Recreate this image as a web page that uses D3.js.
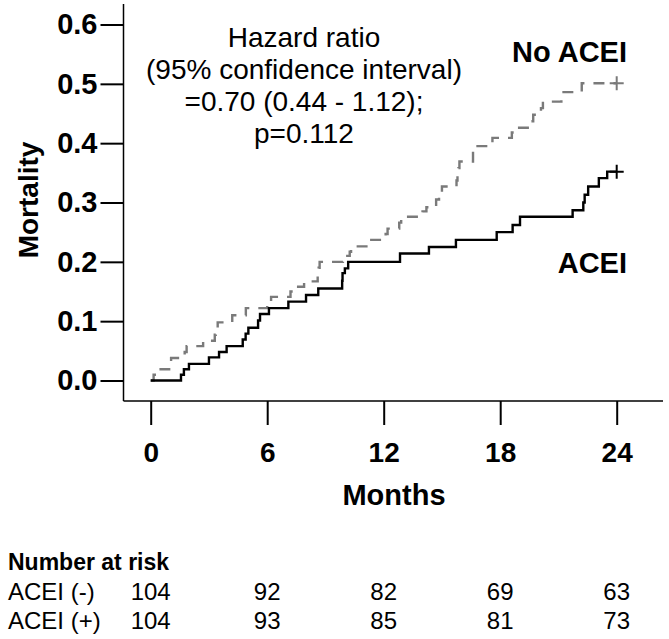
<!DOCTYPE html>
<html><head><meta charset="utf-8">
<script src="https://cdn.jsdelivr.net/npm/d3@7"></script>
<style>body{margin:0;background:#fff}svg{display:block}</style>
</head><body>
<script>
// ---- data ----
const xTicks = [0, 6, 12, 18, 24];
const yTicks = [0, 0.1, 0.2, 0.3, 0.4, 0.5, 0.6];
const aceiTimes  = [0, 1.56, 1.71, 1.97, 3.0, 3.52, 3.91, 4.74, 4.89, 5.03, 5.53, 5.63, 6.09, 7.09, 8.0, 8.63, 9.86, 9.88, 10.0, 10.17, 12.84, 14.33, 15.72, 17.82, 18.64, 19.02, 21.73, 22.28, 22.35, 22.53, 23.08, 23.51, 24];
const aceiValues = [0, 0.0096, 0.019, 0.028, 0.039, 0.048, 0.058, 0.069, 0.079, 0.089, 0.101, 0.112, 0.122, 0.133, 0.144, 0.155, 0.168, 0.181, 0.189, 0.2, 0.214, 0.225, 0.237, 0.25, 0.262, 0.276, 0.287, 0.30, 0.313, 0.327, 0.341, 0.352, 0.352];
const noAceiTimes  = [0, 0.15, 0.3, 0.95, 1.05, 1.75, 1.85, 2.7, 3.3, 3.35, 3.45, 4.2, 4.9, 6.0, 6.2, 7.2, 7.35, 7.9, 8.6, 8.65, 8.7, 9.9, 10.25, 10.32, 11.2, 12.1, 12.2, 12.8, 12.9, 14.0, 14.2, 14.7, 14.85, 15.0, 15.75, 15.8, 15.85, 15.9, 16.6, 17.6, 18.6, 18.75, 19.6, 19.7, 20.1, 20.2, 21.15, 22.2, 24];
const noAceiValues = [0, 0.0096, 0.019, 0.029, 0.038, 0.048, 0.058, 0.067, 0.077, 0.087, 0.098, 0.11, 0.122, 0.132, 0.141, 0.15, 0.158, 0.167, 0.178, 0.19, 0.2, 0.21, 0.217, 0.226, 0.237, 0.247, 0.256, 0.266, 0.276, 0.285, 0.292, 0.305, 0.316, 0.327, 0.337, 0.348, 0.358, 0.369, 0.395, 0.409, 0.418, 0.426, 0.437, 0.448, 0.459, 0.47, 0.486, 0.501, 0.501];
const seriesNames = ["No ACEI", "ACEI"];
const statLines = ["Hazard ratio", "(95% confidence interval)", "=0.70 (0.44 - 1.12);", "p=0.112"];
const riskTitle = "Number at risk";
const riskLabels = ["ACEI (-)", "ACEI (+)"];
const riskNoAcei = [104, 92, 82, 69, 63];
const riskAcei = [104, 93, 85, 81, 73];

// ---- chart ----
const W = 669, H = 639;
const FF = "'Liberation Sans', Arial, sans-serif";
const svg = d3.select("body").append("svg").attr("width", W).attr("height", H)
  .style("font-family", FF);

const x = d3.scaleLinear().domain([0, 24]).range([150.7, 616.7]);
const y = d3.scaleLinear().domain([0, 0.6]).range([380.5, 24.5]);
const axisX0 = 123.5, axisY0 = 401;

// axis lines
svg.append("line").attr("x1", axisX0).attr("x2", axisX0).attr("y1", 4).attr("y2", axisY0)
  .attr("stroke", "#000").attr("stroke-width", 1.5);
svg.append("line").attr("x1", axisX0).attr("x2", 663).attr("y1", axisY0).attr("y2", axisY0)
  .attr("stroke", "#000").attr("stroke-width", 1.5);

const yAxis = d3.axisLeft(y).tickValues(yTicks).tickFormat(d3.format(".1f")).tickSize(23).tickPadding(3);
const gy = svg.append("g").attr("transform", `translate(${axisX0},0)`).call(yAxis);
gy.select(".domain").remove();
gy.selectAll(".tick line").attr("stroke", "#000").attr("stroke-width", 2);
gy.selectAll(".tick text").attr("font-size", 29).attr("font-weight", "bold").attr("fill", "#000")
  .attr("font-family", FF);

const xAxis = d3.axisBottom(x).tickValues(xTicks).tickSize(24).tickPadding(17);
const gx = svg.append("g").attr("transform", `translate(0,${axisY0})`).call(xAxis);
gx.select(".domain").remove();
gx.selectAll(".tick line").attr("stroke", "#000").attr("stroke-width", 2);
gx.selectAll(".tick text").attr("font-size", 28).attr("font-weight", "bold").attr("fill", "#000")
  .attr("font-family", FF);

// axis titles
svg.append("text").attr("transform", "translate(38,200) rotate(-90)").attr("text-anchor", "middle")
  .attr("font-size", 28).attr("font-weight", "bold").text("Mortality");
svg.append("text").attr("x", 394).attr("y", 505).attr("text-anchor", "middle")
  .attr("font-size", 29).attr("font-weight", "bold").text("Months");

// curves
const line = d3.line().x(d => x(d[0])).y(d => y(d[1])).curve(d3.curveStepAfter);
const noAcei = noAceiTimes.map((t, i) => [t, noAceiValues[i]]);
const acei = aceiTimes.map((t, i) => [t, aceiValues[i]]);
svg.append("path").datum(noAcei).attr("d", line).attr("fill", "none")
  .attr("stroke", "#7a7a7a").attr("stroke-width", 2.4).attr("stroke-dasharray", "11,9");
svg.append("path").datum(acei).attr("d", line).attr("fill", "none")
  .attr("stroke", "#000").attr("stroke-width", 2.4);

// censor marks at end
function cross(d, color) {
  const cx = x(d[0]), cy = y(d[1]);
  svg.append("path").attr("d", `M${cx-7},${cy}H${cx+7}M${cx},${cy-7}V${cy+7}`)
    .attr("stroke", color).attr("stroke-width", 2).attr("fill", "none");
}
cross(noAcei[noAcei.length - 1], "#7a7a7a");
cross(acei[acei.length - 1], "#000");

// series labels
svg.append("text").attr("x", 627).attr("y", 62).attr("text-anchor", "end")
  .attr("font-size", 29).attr("font-weight", "bold").text(seriesNames[0]);
svg.append("text").attr("x", 627).attr("y", 273).attr("text-anchor", "end")
  .attr("font-size", 29).attr("font-weight", "bold").text(seriesNames[1]);

// stats text
svg.append("g").selectAll("text").data(statLines).join("text")
  .attr("x", 304).attr("y", (d, i) => 47 + i * 32).attr("text-anchor", "middle")
  .attr("font-size", 28).text(d => d);

// number at risk
svg.append("text").attr("x", 8).attr("y", 570).attr("font-size", 23).attr("font-weight", "bold").text(riskTitle);
[riskNoAcei, riskAcei].forEach((row, r) => {
  const yy = 600 + r * 29;
  svg.append("text").attr("x", 8).attr("y", yy).attr("font-size", 24).text(riskLabels[r]);
  svg.append("g").selectAll("text").data(row).join("text")
    .attr("x", (d, i) => x(xTicks[i])).attr("y", yy).attr("text-anchor", "middle")
    .attr("font-size", 24).text(d => d);
});
</script>
</body></html>
